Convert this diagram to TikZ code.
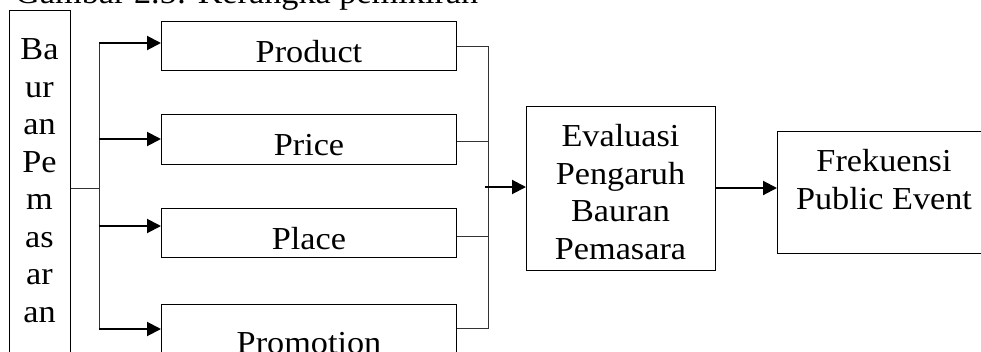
\documentclass[tikz,border=0pt]{standalone}
\usepackage{fontspec}
\setmainfont{Liberation Serif}[FakeStretch=1.07]
\usetikzlibrary{arrows.meta,calc}
\newcommand\stacklines[1]{\begin{tabular}[t]{@{}c@{}}#1\end{tabular}}
\begin{document}
\begin{tikzpicture}[x=1pt,y=-1pt,
  box/.style={draw,line width=1pt,inner sep=0pt,anchor=north west},
  txt/.style={font=\fontsize{32}{37.5}\selectfont,inner sep=0pt},
  thinline/.style={line width=1pt,black!80},
  arr/.style={line width=2pt,-{Triangle[length=14pt,width=14pt]}}]
\useasboundingbox (0,0) rectangle (981,351);
\clip (0,0) rectangle (981,351);
% title (mostly cut off at top)
\node[txt,anchor=base west] (title) at (15,3) {Gambar 2.5: Kerangka pemikiran};
% boxes
\node[box,minimum width=61pt,minimum height=360pt] (baur) at (9,10) {};
\node[box,minimum width=295pt,minimum height=49pt] (product) at (161,21) {};
\node[box,minimum width=295pt,minimum height=50pt] (price) at (161,114) {};
\node[box,minimum width=295pt,minimum height=49pt] (place) at (161,208) {};
\node[box,minimum width=295pt,minimum height=60pt] (promotion) at (161,304) {};
\node[box,minimum width=189pt,minimum height=164pt] (eval) at (526,106) {};
\node[box,minimum width=214pt,minimum height=122pt] (frek) at (777,131) {};
% texts
\node[txt,anchor=base] (baurtext) at (39.5,59.5) {\stacklines{Ba\\ur\\an\\Pe\\m\\as\\ar\\an}};
\node[txt,anchor=base] (evaltext) at (620.5,146.5) {\stacklines{Evaluasi\\Pengaruh\\Bauran\\Pemasara}};
\node[txt,anchor=base] (frektext) at (884,171.5) {\stacklines{Frekuensi\\Public Event}};
\foreach \n/\t/\b in {product/Product/41,price/Price/41,place/Place/41,promotion/Promotion/49}{
  \begin{scope}
    \clip (\n.north west) rectangle ($(\n.north east)+(0,\b)$);
    \node[txt,anchor=base] (\n label) at ($(\n.north)+(0,\b)$) {\t};
  \end{scope}
}
% left connectors
\coordinate (lsplit) at (99,188);
\coordinate (l1) at (99,43);
\coordinate (l2) at (99,139);
\coordinate (l3) at (99,226);
\coordinate (l4) at (99,329);
\draw[thinline] (baur.east |- lsplit) -- (lsplit);
\draw[thinline] (l1) -- (l4);
\draw[arr] (l1) -- (l1 -| product.west);
\draw[arr] (l2) -- (l2 -| price.west);
\draw[arr] (l3) -- (l3 -| place.west);
\draw[arr] (l4) -- (l4 -| promotion.west);
% right connectors
\coordinate (r1) at (488,46);
\coordinate (r2) at (488,141);
\coordinate (r3) at (488,236);
\coordinate (r4) at (488,328);
\draw[thinline] (r1 -| product.east) -- (r1) -- (r4) -- (r4 -| promotion.east);
\draw[thinline] (r2 -| price.east) -- (r2);
\draw[thinline] (r3 -| place.east) -- (r3);
\coordinate (rm) at (485,187);
\draw[arr] (rm) -- (rm -| eval.west);
\coordinate (em) at (715,188);
\draw[arr] (eval.east |- em) -- (em -| frek.west);
\end{tikzpicture}
\end{document}
